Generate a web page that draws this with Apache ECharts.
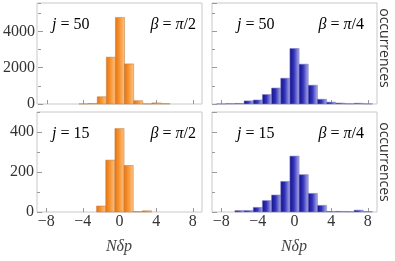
<!DOCTYPE html>
<html><head><meta charset="utf-8">
<script src="https://cdn.jsdelivr.net/npm/echarts@6/dist/echarts.min.js"></script>
<style>html,body{margin:0;padding:0;background:#fff}#c{width:395px;height:261px}</style>
</head><body><div id="c"></div>
<script>
// ---- data ----
const bins = [-8,-7,-6,-5,-4,-3,-2,-1,0,1,2,3,4,5,6,7,8];
const occJ50Pi2 = [0,0,0,0,8,30,400,2583,4773,2212,183,10,60,20,0,0,0];
const occJ50Pi4 = [5,20,30,170,220,520,880,1420,3060,2195,1035,260,100,50,15,40,10];
const occJ15Pi2 = [0,0,0,0,0,0,30,260,418,233,2,6,0,0,0,0,0];
const occJ15Pi4 = [0,0,7,7,23,57,85,153,280,187,93,33,3,3,2,9,2];
const xTickStep = 4;            // x ticks: −8, −4, 0, 4, 8
const yMajorStep = [2000, 200]; // top row, bottom row
const yMinorStep = [1000, 100];
const labelsJ = ['j = 50','j = 50','j = 15','j = 15'];
const labelsBeta = ['β = π/2','β = π/4','β = π/2','β = π/4'];

const chart = echarts.init(document.getElementById('c'));
const frames = [
  {left:37, top:3, width:165, height:101},
  {left:212, top:3, width:165, height:101},
  {left:37, top:112, width:165, height:100},
  {left:212, top:112, width:165, height:100}
];
const frameX = [-9, 9], axisX = [-8, 8];
const yMax = [5570,5570,501,501];
const serif = '"Liberation Serif", "DejaVu Serif", serif';
const tickColor = '#9a9a9a';
const minus = v => String(v).replace('-','\u2212');

const pxPerUnit = f => f.width/(frameX[1]-frameX[0]);
const dataGrids = frames.map(f=>({
  left: f.left + (axisX[0]-frameX[0])*pxPerUnit(f),
  top: f.top,
  width: (axisX[1]-axisX[0])*pxPerUnit(f),
  height: f.height
}));
const gridOpts = frames.map(f=>Object.assign({show:true, borderColor:'#c8c8c8', borderWidth:1, backgroundColor:'transparent'}, f))
  .concat(dataGrids.map(g=>Object.assign({show:false}, g)));

const xAxes = [], yAxes = [];
frames.forEach((f,i)=>{
  xAxes.push({type:'value', gridIndex:i, min:frameX[0], max:frameX[1], show:false});
  yAxes.push({type:'value', gridIndex:i, min:0, max:1, show:false});
});
dataGrids.forEach((g,i)=>{
  xAxes.push({type:'value', gridIndex:4+i, min:axisX[0], max:axisX[1], interval:xTickStep, position:'bottom',
    axisLine:{show:false, onZero:false}, splitLine:{show:false},
    axisTick:{show:true, inside:true, length:4, lineStyle:{color:tickColor}},
    axisLabel:{show:i>=2, margin:2, color:'#333', fontFamily:serif, fontSize:16, formatter:minus}
  });
});
const off = i => dataGrids[i].left - frames[i].left;
dataGrids.forEach((g,i)=>{
  const r = i<2?0:1;
  yAxes.push({type:'value', gridIndex:4+i, min:0, max:yMax[i], interval:yMajorStep[r], position:'left', offset:off(i),
    axisLine:{show:false, onZero:false}, splitLine:{show:false},
    axisTick:{show:true, inside:true, length:5, lineStyle:{color:tickColor}},
    axisLabel:{show:i%2===0, margin:3, color:'#333', fontFamily:serif, fontSize:16, showMaxLabel:false,
      formatter:v=> (v % yMajorStep[r] === 0) ? String(v) : ''}
  });
});
dataGrids.forEach((g,i)=>{
  const r = i<2?0:1;
  yAxes.push({type:'value', gridIndex:4+i, min:0, max:yMax[i], interval:yMinorStep[r], position:'left', offset:off(i),
    axisLine:{show:false, onZero:false}, splitLine:{show:false},
    axisTick:{show:true, inside:true, length:3, lineStyle:{color:tickColor}},
    axisLabel:{show:false}
  });
});

const orangeGrad = () => new echarts.graphic.LinearGradient(0,0,1,0,[
  {offset:0,color:'#e5730f'},{offset:0.45,color:'#f79430'},{offset:1,color:'#fcc68c'}]);
const blueGrad = () => new echarts.graphic.LinearGradient(0,0,1,0,[
  {offset:0,color:'#0f0f85'},{offset:0.45,color:'#3434bb'},{offset:1,color:'#b4b4ee'}]);

function makeRender(gradFn, stroke){
  return function(params, api){
    const x = api.value(0), y = api.value(1);
    if (!(y>0)) return null;
    const p0 = api.coord([x-0.5, y]);
    const p1 = api.coord([x+0.5, 0]);
    return {type:'rect', shape:{x:p0[0], y:p0[1], width:p1[0]-p0[0], height:p1[1]-p0[1]},
      style:{fill:gradFn(), stroke:stroke, lineWidth:0.7}};
  };
}
const sets = [occJ50Pi2, occJ50Pi4, occJ15Pi2, occJ15Pi4];
const series = sets.map((vals,i)=>({
  type:'custom', xAxisIndex:4+i, yAxisIndex:4+i, clip:false,
  renderItem: makeRender(i%2===0?orangeGrad:blueGrad, i%2===0?'rgba(190,120,60,0.7)':'rgba(120,120,190,0.8)'),
  encode:{x:0,y:1},
  data: vals.map((v,k)=>[bins[k], v])
}));

const mathRich = {
  it:{fontFamily:serif, fontStyle:'italic', fontSize:16, color:'#444'},
  up:{fontFamily:serif, fontSize:16, color:'#444'}
};
function jText(s){
  const parts = s.split(' = ');
  return '{it|'+parts[0]+'}{up| = '+parts[1]+'}';
}
function betaText(s){
  const m = s.match(/^(β) = (π)(\/\d)$/);
  return '{it|'+m[1]+'}{up| = }{it|'+m[2]+'}{up|'+m[3]+'}';
}
const jPos = [[52,25],[237,25],[52,134],[237,134]];
const bPos = [[196,25],[364,25],[196,134],[364,134]];
const graphics = [];
for (let i=0;i<4;i++){
  graphics.push({type:'text', x:jPos[i][0], y:jPos[i][1], style:{text:jText(labelsJ[i]), rich:mathRich, align:'left', verticalAlign:'middle'}});
  graphics.push({type:'text', x:bPos[i][0], y:bPos[i][1], style:{text:betaText(labelsBeta[i]), rich:mathRich, align:'right', verticalAlign:'middle'}});
}
[[384,48],[384,162]].forEach(p=>{
  graphics.push({type:'text', x:p[0], y:p[1], rotation:-Math.PI/2,
    style:{text:'occurrences', font:'14px "Open Sans", sans-serif', fill:'#333', align:'center', verticalAlign:'middle'}});
});
[[119,247],[294,247]].forEach(p=>{
  graphics.push({type:'text', x:p[0], y:p[1],
    style:{text:'Nδp', font:'italic 16px "Liberation Serif"', fill:'#444', align:'center', verticalAlign:'middle'}});
});

chart.setOption({
  animation:false,
  grid: gridOpts,
  xAxis: xAxes,
  yAxis: yAxes,
  series: series,
  graphic: graphics
});
</script></body></html>
